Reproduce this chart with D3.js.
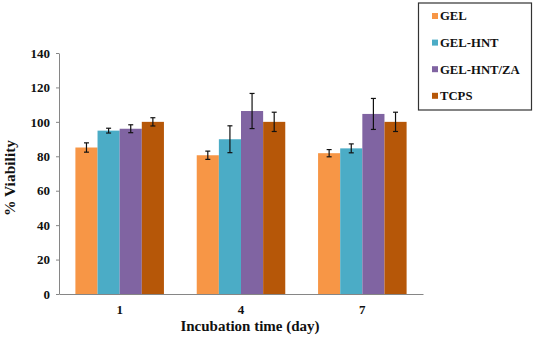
<!DOCTYPE html>
<html>
<head>
<meta charset="utf-8">
<script src="https://cdn.jsdelivr.net/npm/d3@7"></script>
<style>
  body { margin: 0; background: #fff; }
</style>
</head>
<body>
<div id="chart"></div>
<script>
var days = ["1", "4", "7"];
var groups = ["GEL", "GEL-HNT", "GEL-HNT/ZA", "TCPS"];
var colors = ["#F79646", "#4BACC6", "#8064A2", "#B65708"];
// mean viability per group, one value per day
var gel = [85.1, 80.6, 81.8];
var gelHnt = [94.9, 89.9, 84.6];
var gelHntZa = [96.0, 106.3, 104.6];
var tcps = [100, 100, 100];
// error bar half widths
var gelErr = [2.7, 2.4, 2.1];
var gelHntErr = [1.4, 7.8, 2.6];
var gelHntZaErr = [2.3, 10.2, 9.0];
var tcpsErr = [2.4, 5.6, 5.6];
var yTicks = [0, 20, 40, 60, 80, 100, 120, 140];

var width = 533, height = 338;
var margin = {top: 53, right: 110, bottom: 44, left: 59};
var font = "Liberation Serif";

var values = [gel, gelHnt, gelHntZa, tcps];
var errs = [gelErr, gelHntErr, gelHntZaErr, tcpsErr];

var data = [];
days.forEach(function(d, i) {
  groups.forEach(function(g, j) {
    data.push({day: d, group: g, value: values[j][i], err: errs[j][i]});
  });
});

var svg = d3.select("#chart").append("svg")
  .attr("width", width)
  .attr("height", height)
  .attr("font-weight", "bold");

var x = d3.scaleBand()
  .domain(days)
  .range([margin.left, width - margin.right])
  .padding(0);

var xs = d3.scaleBand()
  .domain(groups)
  .range([16.4, x.bandwidth() - 16.4])
  .padding(0);

var y = d3.scaleLinear()
  .domain([0, 140])
  .range([height - margin.bottom, margin.top]);

var color = d3.scaleOrdinal().domain(groups).range(colors);

// bars
svg.append("g")
  .selectAll("rect")
  .data(data)
  .join("rect")
  .attr("x", d => x(d.day) + xs(d.group))
  .attr("y", d => y(d.value))
  .attr("width", xs.bandwidth())
  .attr("height", d => y(0) - y(d.value))
  .attr("fill", d => color(d.group));

// error bars
var eb = svg.append("g")
  .attr("stroke", "#111")
  .attr("stroke-width", 1.2)
  .selectAll("g")
  .data(data)
  .join("g")
  .attr("transform", d => `translate(${x(d.day) + xs(d.group) + xs.bandwidth() / 2},0)`);
eb.append("line")
  .attr("y1", d => y(d.value + d.err))
  .attr("y2", d => y(d.value - d.err));
eb.append("line")
  .attr("x1", -2.5).attr("x2", 2.5)
  .attr("y1", d => y(d.value + d.err))
  .attr("y2", d => y(d.value + d.err));
eb.append("line")
  .attr("x1", -2.5).attr("x2", 2.5)
  .attr("y1", d => y(d.value - d.err))
  .attr("y2", d => y(d.value - d.err));

// y axis
var yAxis = svg.append("g")
  .attr("transform", `translate(${margin.left},0)`)
  .call(d3.axisLeft(y).tickValues(yTicks).tickSize(3).tickSizeOuter(0).tickPadding(6));
yAxis.attr("font-family", font).attr("font-size", 13);
yAxis.selectAll("path, line").attr("stroke", "#868686");
yAxis.selectAll("text").attr("fill", "#111");

// x axis
var xAxis = svg.append("g")
  .attr("transform", `translate(0,${height - margin.bottom})`)
  .call(d3.axisBottom(x).tickSize(0).tickSizeOuter(0).tickPadding(11));
xAxis.attr("font-family", font).attr("font-size", 13);
xAxis.selectAll("path").attr("stroke", "#868686");
xAxis.selectAll("text").attr("fill", "#111");

// axis titles
svg.append("text")
  .attr("x", 250)
  .attr("y", 331)
  .attr("text-anchor", "middle")
  .attr("font-family", font)
  .attr("font-size", 15)
  .attr("fill", "#111")
  .text("Incubation time (day)");

svg.append("text")
  .attr("transform", "translate(15,178) rotate(-90)")
  .attr("text-anchor", "middle")
  .attr("font-family", font)
  .attr("font-size", 15.5)
  .attr("fill", "#111")
  .text("% Viability");

// legend
var lg = svg.append("g");
lg.append("rect")
  .attr("x", 418.5).attr("y", 3)
  .attr("width", 113).attr("height", 107)
  .attr("fill", "#fff")
  .attr("stroke", "#333")
  .attr("stroke-width", 1.2);
var li = lg.selectAll("g")
  .data(groups)
  .join("g")
  .attr("transform", (d, i) => `translate(432,${16 + i * 26.6})`);
li.append("rect")
  .attr("x", 0).attr("y", -3)
  .attr("width", 6).attr("height", 6)
  .attr("fill", d => color(d));
li.append("text")
  .attr("x", 8)
  .attr("dy", "0.35em")
  .attr("font-family", font)
  .attr("font-size", 12.7)
  .attr("fill", "#111")
  .text(d => d);
</script>
</body>
</html>
